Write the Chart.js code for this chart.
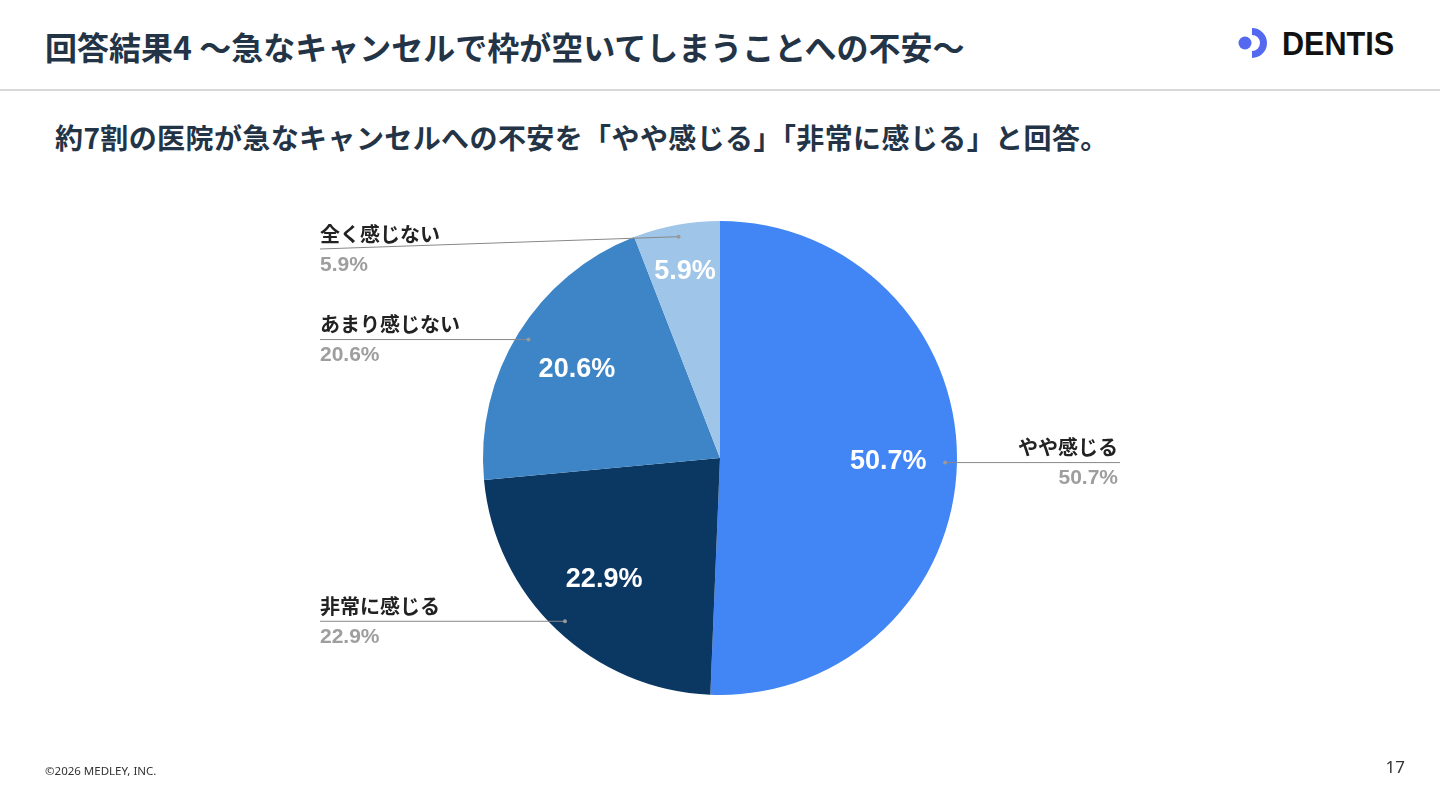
<!DOCTYPE html>
<html>
<head>
<meta charset="utf-8">
<script src="https://cdn.jsdelivr.net/npm/chart.js@4.4.1/dist/chart.umd.min.js"></script>
<style>
  body { margin:0; width:1440px; height:810px; background:#fff; overflow:hidden; position:relative;
         font-family:"Noto Sans CJK JP","Noto Sans",sans-serif; }
  #chart { position:absolute; left:0; top:0; }
  .title { position:absolute; left:45px; top:30px; font-size:32px; line-height:1; font-weight:700; color:#243447; white-space:nowrap; }
  .rule { position:absolute; left:0; top:89px; width:1440px; height:2px; background:#d9d9d9; }
  .sub { position:absolute; left:55px; top:123px; font-size:28px; line-height:1; font-weight:700; color:#243447; white-space:nowrap; letter-spacing:0.4px; }
  .foot { position:absolute; left:45px; top:765px; font-size:11.5px; line-height:1; color:#333; font-family:"Noto Sans",sans-serif; }
  .page { position:absolute; right:35px; top:758px; font-size:17px; line-height:1; color:#333; font-family:"Noto Sans",sans-serif; }
  .logo { position:absolute; left:1236px; top:26px; }
  .logo span { position:absolute; left:46px; top:-2px; font-family:"Liberation Sans",Arial,sans-serif; font-weight:700; font-size:34px; line-height:38px; color:#111;
               transform:scaleX(0.9); transform-origin:left center; }
</style>
</head>
<body>
<div class="title">回答結果4 〜急なキャンセルで枠が空いてしまうことへの不安〜</div>
<div class="rule"></div>
<div class="sub">約7割の医院が急なキャンセルへの不安を「やや感じる」「非常に感じる」と回答。</div>
<div class="logo">
  <svg width="40" height="34" viewBox="0 0 40 34">
    <circle cx="9" cy="17" r="6.5" fill="#5468f0"/>
    <path d="M16,2 A15,15 0 0 1 16,32 L16,25 A8,8 0 0 0 16,9 Z" fill="#5468f0"/>
  </svg>
  <span>DENTIS</span>
</div>
<canvas id="chart" width="1440" height="810"></canvas>
<div class="foot">©2026 MEDLEY, INC.</div>
<div class="page">17</div>
<script>
// data
var labels = ["やや感じる", "非常に感じる", "あまり感じない", "全く感じない"];
var values = [50.7, 22.9, 20.6, 5.9];
var sliceColors = ["#4285f4", "#0b3763", "#3d85c6", "#9fc5e8"];

// draws the % inside slices and the callout labels with leader lines
var calloutPlugin = {
    id: "callouts",
    afterDatasetsDraw: function(chart) {
        var ctx = chart.ctx;
        var area = chart.chartArea;
        var arcs = chart.getDatasetMeta(0).data;
        arcs.forEach(function(arc, i) {
            var p = arc.getProps(["x", "y", "startAngle", "endAngle", "outerRadius"], true);
            var mid = (p.startAngle + p.endAngle) / 2;
            var r = p.outerRadius;
            var txt = values[i].toFixed(1) + "%";

            // inside label
            var f = values[i] < 10 ? 0.8 : 0.71;
            ctx.save();
            ctx.fillStyle = "#fff";
            ctx.font = "bold 27px 'Liberation Sans', Arial, sans-serif";
            ctx.textAlign = "center";
            ctx.textBaseline = "middle";
            ctx.fillText(txt, p.x + Math.cos(mid) * r * f, p.y + Math.sin(mid) * r * f);

            // leader line
            var dx = p.x + Math.cos(mid) * r * 0.95;
            var dy = p.y + Math.sin(mid) * r * 0.95;
            var right = Math.cos(mid) >= 0;
            var ex = right ? p.x + 400 : p.x - 400;
            var ey = Math.max(dy, area.top + 28);
            ctx.strokeStyle = "#888";
            ctx.lineWidth = 1;
            ctx.beginPath();
            ctx.moveTo(dx, dy);
            ctx.lineTo(ex, ey);
            ctx.stroke();
            ctx.fillStyle = "#999";
            ctx.beginPath();
            ctx.arc(dx, dy, 2, 0, Math.PI * 2);
            ctx.fill();

            // texts
            ctx.textAlign = right ? "right" : "left";
            var tx = right ? ex - 2 : ex;
            ctx.fillStyle = "#222";
            ctx.font = "bold 20px 'Noto Sans CJK JP', sans-serif";
            ctx.fillText(labels[i], tx, ey - 15);
            ctx.fillStyle = "#9e9e9e";
            ctx.font = "bold 21px 'Liberation Sans', Arial, sans-serif";
            ctx.fillText(txt, tx, ey + 16);
            ctx.restore();
        });
    }
};

new Chart(document.getElementById("chart"), {
    type: "pie",
    data: {
        labels: labels,
        datasets: [{
            data: values,
            backgroundColor: sliceColors,
            borderWidth: 0
        }]
    },
    options: {
        responsive: false,
        animation: false,
        layout: {
            padding: { top: 221, bottom: 115, left: 0, right: 0 }
        },
        plugins: {
            legend: { display: false },
            tooltip: { enabled: false }
        }
    },
    plugins: [calloutPlugin]
});
</script>
</body>
</html>
